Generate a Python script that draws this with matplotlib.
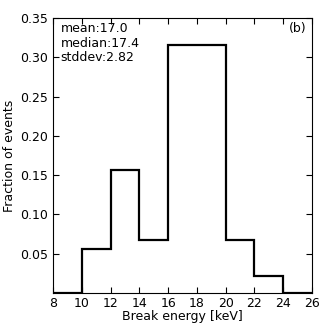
import numpy as np
import matplotlib
matplotlib.use("Agg")
from matplotlib import pyplot as plt

# histogram of break energies (fraction of events per 2 keV bin)
binEdges = [8, 10, 12, 14, 16, 18, 20, 22, 24, 26]
fractions = [0.0, 0.056, 0.157, 0.067, 0.315, 0.315, 0.067, 0.022, 0.0]
statLines = ["mean:17.0", "median:17.4", "stddev:2.82"]
yTicks = [0.05, 0.10, 0.15, 0.20, 0.25, 0.30, 0.35]

fig = plt.figure(figsize=(3.32, 3.32), dpi=100)
ax = fig.add_axes([53 / 332, 39 / 332, 259 / 332, 275 / 332])

ax.stairs(fractions, binEdges, color="black", linewidth=1.6)

ax.set_xlim(8, 26)
ax.set_ylim(0, 0.35)
ax.set_xticks(np.arange(8, 27, 2))
ax.set_yticks(yTicks)
ax.set_yticklabels([f"{t:.2f}" for t in yTicks])
ax.tick_params(direction="in", top=True, right=True, length=4, labelsize=9)
ax.tick_params(axis="x", pad=3)
ax.set_xlabel("Break energy [keV]", fontsize=9, labelpad=0)
ax.set_ylabel("Fraction of events", fontsize=9, labelpad=3)

ax.text(0.03, 0.985, "\n".join(statLines), transform=ax.transAxes,
        fontsize=9, va="top", ha="left", linespacing=1.15)
ax.text(0.98, 0.985, "(b)", transform=ax.transAxes,
        fontsize=9, va="top", ha="right")

fig.savefig("out.png", dpi=100)
